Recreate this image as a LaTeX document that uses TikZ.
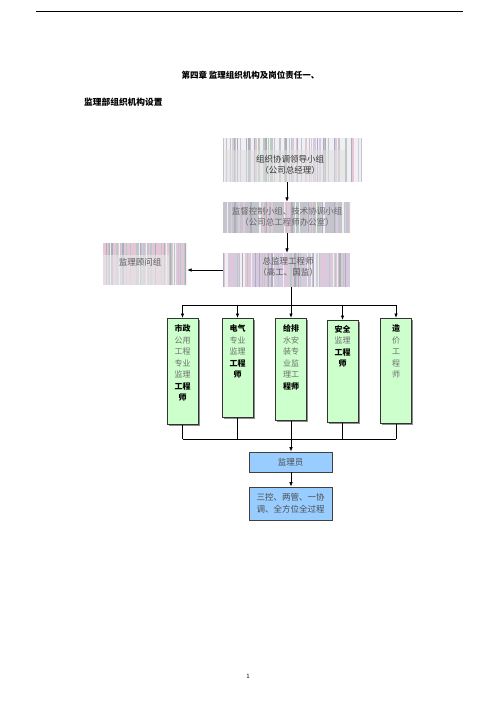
\documentclass[tikz,border=0pt]{standalone}
\usepackage{fontspec}
\setmainfont{Noto Sans CJK SC}
\usetikzlibrary{arrows.meta,shadows,calc}
\definecolor{gfill}{RGB}{204,255,204}
\definecolor{bfill}{RGB}{153,204,255}
\definecolor{st0}{RGB}{196,196,204}
\definecolor{st1}{RGB}{214,202,224}
\definecolor{st2}{RGB}{240,240,244}
\definecolor{st3}{RGB}{176,172,190}
\definecolor{st4}{RGB}{228,198,214}
\definecolor{st5}{RGB}{186,202,190}
\definecolor{gt}{RGB}{110,110,110}
\tikzset{
  stripes/.style={path picture={
    \fill[#1] (path picture bounding box.south west) rectangle (path picture bounding box.north east);
    \foreach \k in {1,...,80}{
      \pgfmathsetmacro{\xx}{rnd}
      \pgfmathtruncatemacro{\cc}{random(0,5)}
      \pgfmathsetmacro{\lw}{0.4+1.3*rnd}
      \draw[line width=\lw pt, draw=st\cc]
        ($(path picture bounding box.south west)!\xx!(path picture bounding box.south east)$) --
        ($(path picture bounding box.north west)!\xx!(path picture bounding box.north east)$);
    }}},
  graybox/.style={rectangle, draw=none, inner sep=0pt, stripes=#1},
  greenbox/.style={rectangle, draw=black!80, line width=0.7pt, fill=gfill, inner sep=0pt,
    minimum width=31pt, drop shadow={shadow xshift=1.6pt, shadow yshift=-1.6pt, fill=black!45, opacity=1}},
  bluebox/.style={rectangle, draw=black!75, line width=0.7pt, fill=bfill, inner sep=0pt,
    minimum width=83pt, drop shadow={shadow xshift=1.4pt, shadow yshift=-1.4pt, fill=black!40, opacity=1}},
  boxtext/.style={inner sep=0pt, align=center, font=\fontsize{8.5}{11}\selectfont},
  vtext/.style={inner sep=0pt, align=center, anchor=north, font=\fontsize{8}{11.5}\selectfont},
  conn/.style={draw=black, line width=0.8pt},
  arr/.style={conn, -{Latex[length=4.5pt,width=3.6pt]}},
}
\begin{document}
\begin{tikzpicture}[x=1pt,y=-1pt]
\pgfmathsetseed{4711}
\useasboundingbox (0,0) rectangle (496,702);
\fill[white] (0,0) rectangle (496,702);
\draw[line width=0.9pt] (36,11) -- (463,11);

\node[inner sep=0pt, font=\fontsize{8.5}{10}\selectfont\bfseries] (title) at (250.5,75) {第四章 监理组织机构及岗位责任一、};
\node[inner sep=0pt, anchor=west, font=\fontsize{8.7}{10}\selectfont\bfseries] (sub) at (84,102) {监理部组织机构设置};

% gray striped boxes
\node[graybox=st2, minimum width=139pt, minimum height=44pt] (b1) at (292.5,160) {};
\fill[black!12, opacity=0.55] ($(b1.south west)+(2,0)$) rectangle ($(b1.south east)+(-17,-32)$);
\node[boxtext, text=black!80] (t1) at (290,164.5) {组织协调领导小组\\（公司总经理）};

\node[graybox=st0, minimum width=127pt, minimum height=31pt] (b2) at (286.5,217.5) {};
\node[boxtext, text=black!60] (t2) at (287,217) {监督控制小组、技术协调小组\\（公司总工程师办公室）};

\node[graybox=st1, minimum width=127pt, minimum height=34pt] (b3) at (286.5,270) {};
\node[boxtext, text=black!65] (t3) at (288,267) {总监理工程师\\（高工、国监）};

\node[graybox=st4, minimum width=84pt, minimum height=42pt] (gw) at (145,264) {};
\fill[black!8, opacity=0.6] ($(gw.south west)$) rectangle ($(gw.south east)+(-18,-30)$);
\node[boxtext, text=black!65] (tg) at (140,262) {监理顾问组};

% spines
\coordinate (sp) at (287,0);
\coordinate (sp2) at (291,305);
\coordinate (sp3) at (291,439);

\draw[arr] (b1.south -| sp) -- (b2.north -| sp);
\draw[arr] (b2.south -| sp) -- (b3.north -| sp);
\draw[arr] (b3.west) -- (b3.west -| gw.east);

% green boxes
\node[greenbox, anchor=north, minimum height=106pt] (g1) at (182.5,318) {};
\node[greenbox, anchor=north, minimum height=99pt]  (g2) at (237.5,318) {};
\node[greenbox, anchor=north, minimum height=102pt] (g3) at (291,318) {};
\node[greenbox, anchor=north, minimum height=102pt] (g4) at (342.5,320) {};
\node[greenbox, anchor=north, minimum height=105pt] (g5) at (396,318) {};

\node[vtext] (v1) at ($(g1.north)+(0,6.5)$) {\textbf{市政}\\\textcolor{gt}{公用}\\\textcolor{gt}{工程}\\\textcolor{gt}{专业}\\\textcolor{gt}{监理}\\\textbf{工程}\\\textbf{师}};
\node[vtext] (v2) at ($(g2.north)+(0,6.5)$) {\textbf{电气}\\\textcolor{gt}{专业}\\\textcolor{gt}{监理}\\\textbf{工程}\\\textbf{师}};
\node[vtext] (v3) at ($(g3.north)+(0,6.5)$) {\textbf{给排}\\\textcolor{gt}{水安}\\\textcolor{gt}{装专}\\\textcolor{gt}{业监}\\\textcolor{gt}{理工}\\\textbf{程师}};
\node[vtext] (v4) at ($(g4.north)+(0,5)$) {\textbf{安全}\\\textcolor{gt}{监理}\\\textbf{工程}\\\textbf{师}};
\node[vtext] (v5) at ($(g5.north)+(0,6.5)$) {\textbf{造}\\\textcolor{gt}{价}\\\textcolor{gt}{工}\\\textcolor{gt}{程}\\\textcolor{gt}{师}};

\draw[conn] (b3.south -| sp2) -- (sp2);
\draw[conn] (g1.north |- sp2) -- (g5.north |- sp2);
\draw[arr] (g1.north |- sp2) -- (g1.north);
\draw[arr] (g2.north |- sp2) -- (g2.north);
\draw[arr] (g3.north |- sp2) -- (g3.north);
\draw[arr] (g4.north |- sp2) -- (g4.north);
\draw[arr] (g5.north |- sp2) -- (g5.north);
\draw[conn] (g1.south) -- (g1.south |- sp3);
\draw[conn] (g2.south) -- (g2.south |- sp3);
\draw[conn] (g3.south) -- (g3.south |- sp3);
\draw[conn] (g4.south) -- (g4.south |- sp3);
\draw[conn] (g5.south) -- (g5.south |- sp3);
\draw[conn] (g1.south |- sp3) -- (g5.south |- sp3);

% blue boxes
\node[bluebox, minimum height=20pt] (ry) at (290.5,462) {};
\node[boxtext, text=black!70] (try) at (290.5,462) {监理员};
\node[bluebox, minimum height=33pt] (sk) at (290.5,503.5) {};
\node[boxtext, text=black!70, font=\fontsize{8.5}{12}\selectfont] (tsk) at (290.5,503) {三控、两管、一协\\调、全方位全过程};

\draw[arr] (sp3) -- (ry.north -| sp3);
\draw[arr] (ry.south -| sp3) -- (sk.north -| sp3);

\node[inner sep=0pt, font=\fontsize{6}{7}\selectfont] (pn) at (248,676) {1};
\end{tikzpicture}
\end{document}
